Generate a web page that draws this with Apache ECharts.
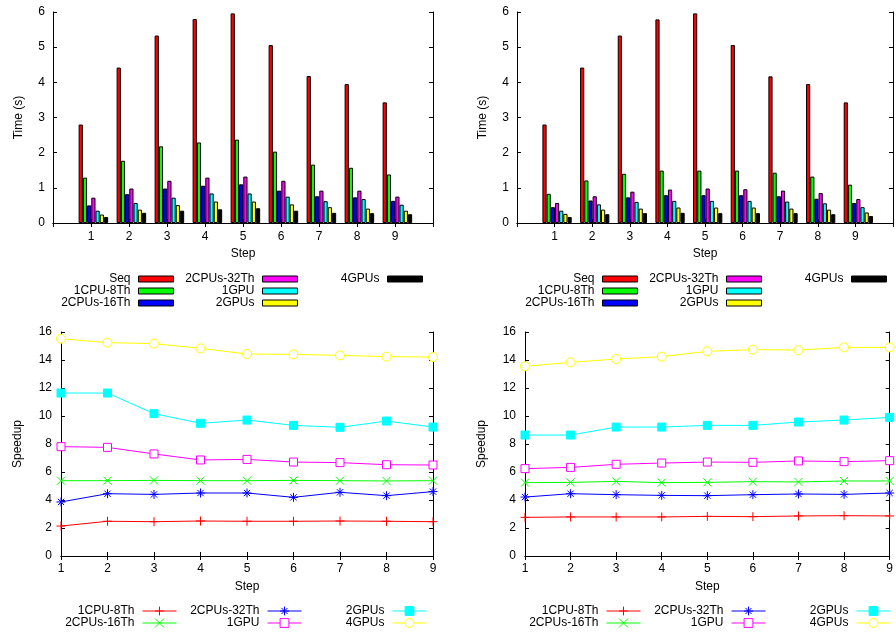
<!DOCTYPE html>
<html><head><meta charset="utf-8">
<script src="https://cdn.jsdelivr.net/npm/echarts@6/dist/echarts.min.js"></script>
<style>html,body{margin:0;padding:0;background:#fff}#c{width:896px;height:634px}</style>
</head><body><div id="c"></div>
<script>
// ---------- data ----------
const steps = ['1','2','3','4','5','6','7','8','9'];
const barNames = ['Seq','1CPU-8Th','2CPUs-16Th','2CPUs-32Th','1GPU','2GPUs','4GPUs'];
const lineNames = ['1CPU-8Th','2CPUs-16Th','2CPUs-32Th','1GPU','2GPUs','4GPUs'];

// top-left: execution time (s)
const seqL   = [2.80,4.42,5.33,5.80,5.96,5.06,4.18,3.95,3.43];
const cpu8L  = [1.29,1.77,2.18,2.29,2.37,2.03,1.66,1.57,1.38];
const cpu16L = [0.50,0.82,0.98,1.06,1.10,0.92,0.76,0.73,0.63];
const cpu32L = [0.72,0.98,1.20,1.29,1.32,1.20,0.92,0.92,0.75];
const gpu1L  = [0.35,0.57,0.72,0.84,0.84,0.75,0.62,0.68,0.52];
const gpu2L  = [0.24,0.38,0.51,0.61,0.61,0.53,0.45,0.41,0.35];
const gpu4L  = [0.17,0.29,0.35,0.39,0.42,0.35,0.29,0.28,0.25];

// top-right: execution time (s)
const seqR   = [2.80,4.42,5.33,5.79,5.96,5.06,4.17,3.95,3.43];
const cpu8R  = [0.83,1.21,1.40,1.49,1.49,1.49,1.43,1.32,1.09];
const cpu16R = [0.45,0.64,0.73,0.79,0.79,0.79,0.76,0.69,0.57];
const cpu32R = [0.57,0.76,0.89,0.95,0.98,0.96,0.92,0.85,0.68];
const gpu1R  = [0.35,0.53,0.60,0.63,0.63,0.63,0.61,0.56,0.45];
const gpu2R  = [0.26,0.38,0.41,0.44,0.44,0.44,0.41,0.38,0.30];
const gpu4R  = [0.17,0.25,0.28,0.29,0.28,0.28,0.28,0.25,0.20];

// bottom-left: speedup
const sp8L   = [2.14,2.48,2.45,2.50,2.48,2.48,2.50,2.48,2.45];
const sp16L  = [5.38,5.38,5.40,5.38,5.38,5.40,5.38,5.36,5.38];
const sp32L  = [3.86,4.45,4.40,4.50,4.50,4.19,4.55,4.31,4.60];
const spG1L  = [7.81,7.76,7.29,6.86,6.90,6.71,6.67,6.52,6.50];
const spG2L  = [11.64,11.64,10.17,9.48,9.71,9.33,9.19,9.64,9.21];
const spG4L  = [15.52,15.24,15.17,14.83,14.43,14.40,14.33,14.24,14.21];

// bottom-right: speedup
const sp8R   = [2.76,2.79,2.79,2.79,2.83,2.81,2.86,2.88,2.86];
const sp16R  = [5.24,5.26,5.33,5.24,5.26,5.31,5.29,5.36,5.36];
const sp32R  = [4.21,4.45,4.38,4.33,4.31,4.38,4.43,4.40,4.50];
const spG1R  = [6.24,6.33,6.55,6.64,6.71,6.69,6.79,6.74,6.81];
const spG2R  = [8.64,8.64,9.21,9.21,9.33,9.33,9.57,9.71,9.90];
const spG4R  = [13.55,13.83,14.07,14.24,14.62,14.74,14.71,14.90,14.90];

// ---------- styling ----------
const barColors = ['#ff0000','#00ff00','#0000ff','#ff00ff','#00ffff','#ffff00','#000000'];
const lineColors = ['#ff0000','#00ff00','#0000ff','#ff00ff','#00ffff','#ffff00'];
const lineSymbols = [
  {symbol:'path://M0,5L10,5M5,0L5,10', size:9, fill:'#ff0000'},
  {symbol:'path://M0,0L10,10M10,0L0,10', size:8, fill:'#00ff00'},
  {symbol:'path://M0,5L10,5M5,0L5,10M1.5,1.5L8.5,8.5M8.5,1.5L1.5,8.5', size:9, fill:'#0000ff'},
  {symbol:'rect', size:8, fill:'#ffffff'},
  {symbol:'rect', size:8, fill:'#00ffff'},
  {symbol:'circle', size:9, fill:'#ffffff'}
];
const FONT = '"Liberation Sans", Arial, Helvetica, sans-serif';
const TXT = '#000';
const W = 896;

const barCats = [''].concat(steps, ['']);
function pad(a){ return [null].concat(a, [null]); }

const grids = [
  {left:53,    top:12,  width:380, height:211},   // 0 top-left axes
  {left:55.4,  top:12,  width:380, height:211},   // 1 top-left bars
  {left:517,   top:12,  width:380, height:211},   // 2 top-right axes
  {left:519.4, top:12,  width:380, height:211},   // 3 top-right bars
  {left:61,    top:332, width:372, height:224},   // 4 bottom-left
  {left:525,   top:332, width:372, height:224}    // 5 bottom-right
];
const xAxes = [], yAxes = [], series = [], legends = [];
const lineAx = {show:true, lineStyle:{color:'#000', width:1}};
const tickIn = {show:true, inside:true, length:4, lineStyle:{color:'#000', width:1}};
const lbl = {color:TXT, fontSize:12, fontFamily:FONT};

function frame(gi, cats, yMax, yInt, yName, yNameGap, xMargin, yMargin){
  const xi = xAxes.length, yi = yAxes.length;
  xAxes.push({type:'category', gridIndex:gi, data:cats, boundaryGap:false, position:'bottom',
    axisLine:lineAx, axisTick:Object.assign({interval:0}, tickIn),
    axisLabel:Object.assign({interval:0, margin:xMargin}, lbl), splitLine:{show:false},
    name:'Step', nameLocation:'middle', nameGap:25, nameTextStyle:lbl});
  xAxes.push({type:'category', gridIndex:gi, data:cats, boundaryGap:false, position:'top',
    axisLine:lineAx, axisTick:Object.assign({interval:0}, tickIn), axisLabel:{show:false}, splitLine:{show:false}});
  yAxes.push({type:'value', gridIndex:gi, min:0, max:yMax, interval:yInt, position:'left',
    axisLine:lineAx, axisTick:tickIn, axisLabel:Object.assign({margin:yMargin}, lbl), splitLine:{show:false},
    name:yName, nameLocation:'middle', nameGap:yNameGap, nameRotate:90, nameTextStyle:lbl});
  yAxes.push({type:'value', gridIndex:gi, min:0, max:yMax, interval:yInt, position:'right',
    axisLine:lineAx, axisTick:tickIn, axisLabel:{show:false}, splitLine:{show:false}});
  return {xi, yi};
}
function hiddenAxes(gi, cats, yMax){
  const xi = xAxes.length, yi = yAxes.length;
  xAxes.push({type:'category', gridIndex:gi, data:cats, boundaryGap:false, show:false});
  yAxes.push({type:'value', gridIndex:gi, min:0, max:yMax, show:false});
  return {xi, yi};
}

frame(0, barCats, 6, 1, 'Time (s)', 28, 8, 8);
const bL = hiddenAxes(1, barCats, 6);
frame(2, barCats, 6, 1, 'Time (s)', 28, 8, 8);
const bR = hiddenAxes(3, barCats, 6);
const lL = frame(4, steps, 16, 2, 'Speedup', 37, 7, 9);
const lR = frame(5, steps, 16, 2, 'Speedup', 37, 7, 9);

const barsLeft  = [seqL, cpu8L, cpu16L, cpu32L, gpu1L, gpu2L, gpu4L];
const barsRight = [seqR, cpu8R, cpu16R, cpu32R, gpu1R, gpu2R, gpu4R];
[[bL, barsLeft], [bR, barsRight]].forEach(([ax, sets]) => {
  sets.forEach((arr, i) => {
    series.push({type:'bar', name:barNames[i], xAxisIndex:ax.xi, yAxisIndex:ax.yi,
      data:pad(arr), barWidth:'11.11%', barGap:'0%', animation:false,
      itemStyle:{color:barColors[i], borderColor:'#000', borderWidth:1}});
  });
});

const linesLeft  = [sp8L, sp16L, sp32L, spG1L, spG2L, spG4L];
const linesRight = [sp8R, sp16R, sp32R, spG1R, spG2R, spG4R];
[[lL, linesLeft], [lR, linesRight]].forEach(([ax, sets]) => {
  sets.forEach((arr, i) => {
    const s = lineSymbols[i];
    series.push({type:'line', name:lineNames[i] + '@S', xAxisIndex:ax.xi, yAxisIndex:ax.yi,
      data:arr, symbol:s.symbol, symbolSize:s.size, showAllSymbol:true, animation:false,
      lineStyle:{color:lineColors[i], width:1},
      itemStyle:{color:s.fill, borderColor:lineColors[i], borderWidth:1}});
  });
});

// legends (one per entry, right-aligned text, sample to the right)
function addLegend(name, rightEdge, cy, kind, idx){
  const isBar = kind === 'bar';
  const lg = {data:[name], orient:'horizontal', right: W - rightEdge, top: cy - 7,
    align:'right', padding:0, itemGap:0, selectedMode:false,
    itemWidth: isBar ? 35 : 34, itemHeight: isBar ? 6 : 11,
    formatter: n => n.replace(/@.*$/, ''),
    textStyle:{color:TXT, fontSize:12, fontFamily:FONT, lineHeight:14, padding:[0,3,0,0]}};
  if (isBar) {
    lg.icon = 'rect';
    lg.itemStyle = {borderColor:'#000', borderWidth:1};
  } else {
    lg.lineStyle = {width:1, color:lineColors[idx]};
    lg.itemStyle = {borderWidth:1, borderColor:lineColors[idx], color:lineSymbols[idx].fill};
  }
  legends.push(lg);
}
const barCols = [[174, 298, 423], [638, 762, 887]];
const barRows = [279, 291, 303];
barCols.forEach(cols => {
  barNames.forEach((n, i) => addLegend(n, cols[Math.floor(i/3)], barRows[i%3], 'bar', i));
});
const lineCols = [[177, 302, 427], [641, 766, 891]];
const lineRows = [611, 623];
lineCols.forEach(cols => {
  lineNames.forEach((n, i) => addLegend(n + '@S', cols[Math.floor(i/2)], lineRows[i%2], 'line', i));
});

const chart = echarts.init(document.getElementById('c'), null, {renderer:'canvas'});
chart.setOption({
  backgroundColor:'#fff', animation:false,
  textStyle:{fontFamily:FONT},
  grid:grids, xAxis:xAxes, yAxis:yAxes, series:series, legend:legends
});
</script></body></html>
